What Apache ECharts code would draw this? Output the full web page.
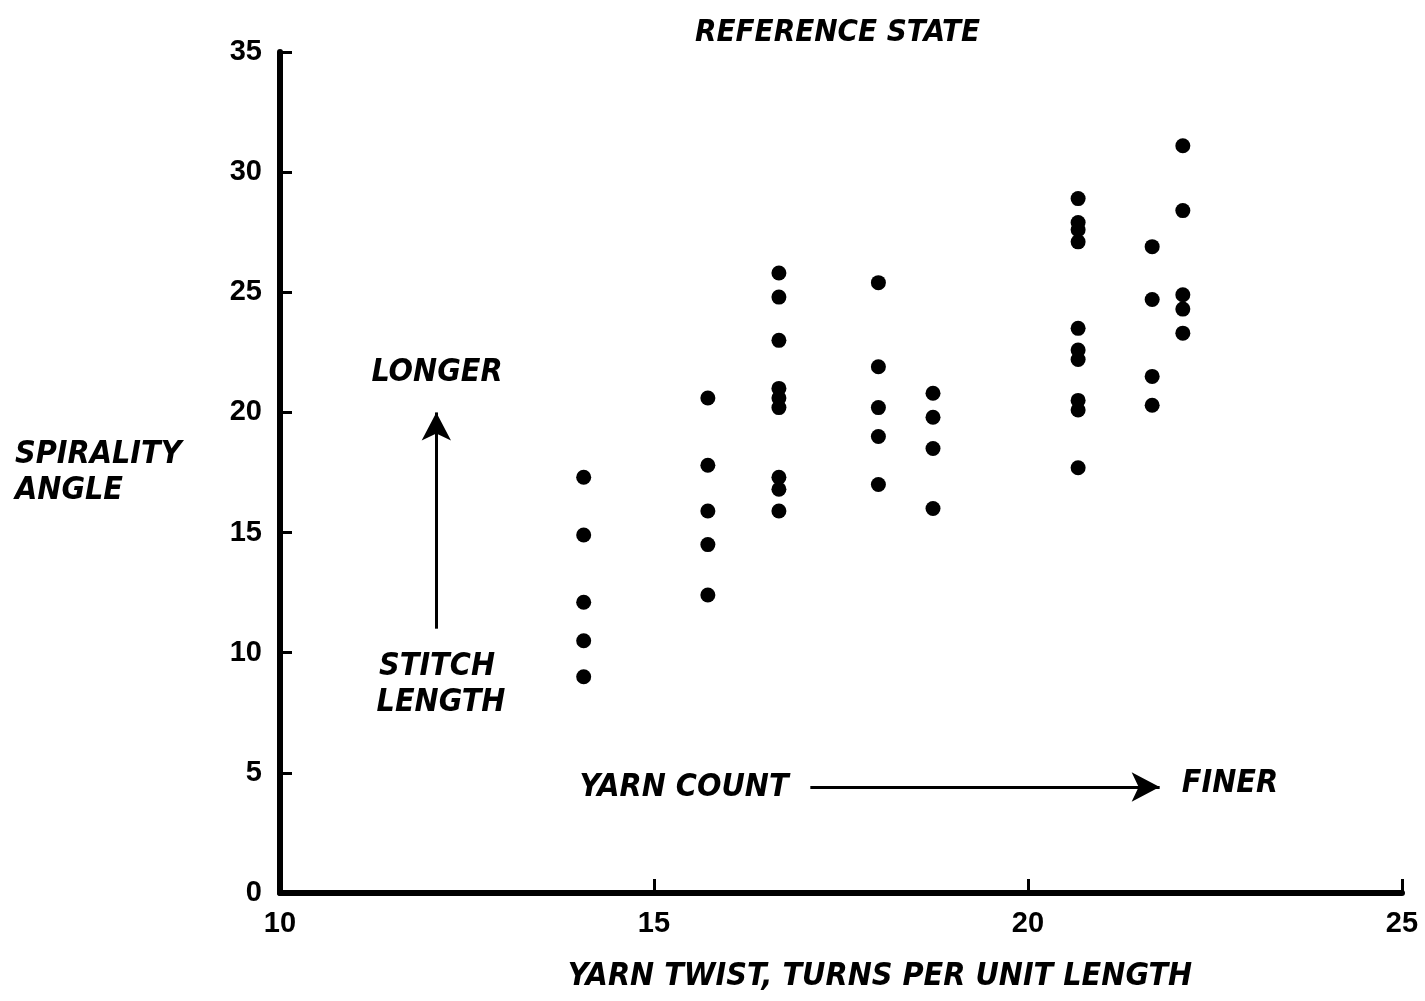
<!DOCTYPE html>
<html>
<head>
<meta charset="utf-8">
<title>Reference State – Spirality Angle vs Yarn Twist</title>
<script src="https://cdn.jsdelivr.net/npm/echarts@6/dist/echarts.min.js"></script>
<style>
  html, body { margin: 0; padding: 0; background: #fff; }
  #chart { width: 1425px; height: 1001px; }
</style>
</head>
<body>
<div id="chart"></div>
<script>
// Yarn twist (turns per unit length) of each test group
const twistLevels = [14.06, 15.72, 16.67, 18.0, 18.73, 20.67, 21.66, 22.07];

// Spirality angles measured for each twist group
const anglesAt1406 = [17.3, 14.9, 12.1, 10.5, 9.0];
const anglesAt1572 = [20.6, 17.8, 15.9, 14.5, 12.4];
const anglesAt1667 = [25.8, 24.8, 23.0, 21.0, 20.6, 20.2, 17.3, 16.8, 15.9];
const anglesAt1800 = [25.4, 21.9, 20.2, 19.0, 17.0];
const anglesAt1873 = [20.8, 19.8, 18.5, 16.0];
const anglesAt2067 = [28.9, 27.9, 27.6, 27.1, 23.5, 22.6, 22.2, 20.5, 20.1, 17.7];
const anglesAt2166 = [26.9, 24.7, 21.5, 20.3];
const anglesAt2207 = [31.1, 28.4, 24.9, 24.3, 23.3];

// Axis ticks
const xTicks = [10, 15, 20, 25];
const yTicks = [0, 5, 10, 15, 20, 25, 30, 35];

// Trend arrows (data coordinates)
const stitchArrow = [[12.09, 11.0], [12.09, 20.0]];
const countArrow = [[17.09, 4.41], [21.76, 4.41]];

const angleGroups = [anglesAt1406, anglesAt1572, anglesAt1667, anglesAt1800,
                     anglesAt1873, anglesAt2067, anglesAt2166, anglesAt2207];
const points = [];
angleGroups.forEach((group, i) => {
  group.forEach(a => points.push([twistLevels[i], a]));
});

const handFont = "'Liberation Sans Narrow', 'DejaVu Sans Condensed', 'Liberation Sans', sans-serif";
const numFont = "'Liberation Sans', Arial, sans-serif";

function note(text, x, y) {
  return {
    type: 'text', x: x, y: y,
    style: {
      text: text, fill: '#000',
      font: "italic bold 32px " + handFont,
      align: 'center', verticalAlign: 'middle'
    }
  };
}

const chart = echarts.init(document.getElementById('chart'), null, { renderer: 'canvas' });
chart.setOption({
  backgroundColor: '#fff',
  animation: false,
  title: {
    text: 'REFERENCE STATE',
    left: 690, top: 12,
    textStyle: { fontFamily: handFont, fontStyle: 'italic', fontWeight: 'bold', fontSize: 31, color: '#000' }
  },
  grid: { left: 280, right: 23, top: 52, bottom: 108, containLabel: false, outerBoundsMode: 'none' },
  xAxis: {
    type: 'value', min: xTicks[0], max: xTicks[xTicks.length - 1], interval: 5,
    name: 'YARN TWIST, TURNS PER UNIT LENGTH',
    nameLocation: 'middle', nameGap: 68,
    nameTextStyle: { fontFamily: handFont, fontStyle: 'italic', fontWeight: 'bold', fontSize: 32, color: '#000', padding: [0, 0, 0, 78] },
    axisLine: { show: true, onZero: false, lineStyle: { color: '#000', width: 6 } },
    axisTick: { show: true, inside: true, length: 14, lineStyle: { color: '#000', width: 3 } },
    axisLabel: { margin: 16, fontFamily: numFont, fontWeight: 'bold', fontSize: 29, color: '#000' },
    splitLine: { show: false }
  },
  yAxis: {
    type: 'value', min: yTicks[0], max: yTicks[yTicks.length - 1], interval: 5,
    name: 'SPIRALITY\nANGLE',
    nameLocation: 'middle', nameGap: 265, nameRotate: 0,
    nameTextStyle: { fontFamily: handFont, fontStyle: 'italic', fontWeight: 'bold', fontSize: 32, color: '#000', align: 'left', lineHeight: 36 },
    axisLine: { show: true, onZero: false, lineStyle: { color: '#000', width: 6 } },
    axisTick: { show: true, inside: true, length: 12, lineStyle: { color: '#000', width: 3 } },
    axisLabel: { margin: 18, fontFamily: numFont, fontWeight: 'bold', fontSize: 29, color: '#000' },
    splitLine: { show: false }
  },
  series: [{
    type: 'scatter',
    data: points,
    symbol: 'circle',
    symbolSize: 15,
    itemStyle: { color: '#000', opacity: 1 },
    markLine: {
      silent: true,
      symbol: ['none', 'arrow'],
      symbolSize: [22, 28],
      label: { show: false },
      lineStyle: { color: '#000', width: 3, type: 'solid', opacity: 1 },
      data: [
        [{ coord: stitchArrow[0] }, { coord: stitchArrow[1] }],
        [{ coord: countArrow[0] }, { coord: countArrow[1] }]
      ]
    }
  }],
  graphic: [
    note('LONGER', 437, 373),
    note('STITCH', 437, 667),
    note('LENGTH', 441, 703),
    note('YARN COUNT', 684, 788),
    note('FINER', 1230, 784)
  ]
});
</script>
</body>
</html>
